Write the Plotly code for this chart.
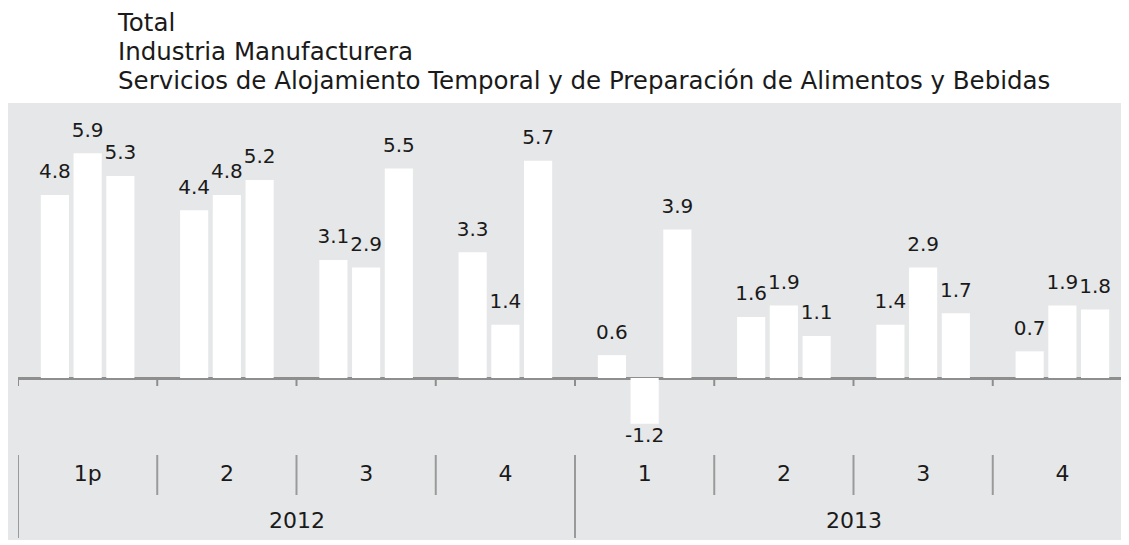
import plotly.graph_objects as go

years = ["2012"] * 4 + ["2013"] * 4
quarters = ["1p", "2", "3", "4", "1", "2", "3", "4"]
series_names = [
    "Total",
    "Industria Manufacturera",
    "Servicios de Alojamiento Temporal y de Preparación de Alimentos y Bebidas",
]
total = [4.8, 4.4, 3.1, 3.3, 0.6, 1.6, 1.4, 0.7]
manufactura = [5.9, 4.8, 2.9, 1.4, -1.2, 1.9, 2.9, 1.9]
alojamiento = [5.3, 5.2, 5.5, 5.7, 3.9, 1.1, 1.7, 1.8]
values = [total, manufactura, alojamiento]

cats = [f"{y}-{q}" for y, q in zip(years, quarters)]

# figure coordinates (page is offset by the 8px body margin)
W, H = 1129, 545
ML, MR, MT, MB = 10, 5, 95, 98
PW, PH = W - ML - MR, H - MT - MB
PLOT_BOTTOM = H - MB
PX_PER_UNIT = 38.1
ZERO_Y = 370
y_top = (ZERO_Y - MT) / PX_PER_UNIT
y_bot = -(PLOT_BOTTOM - ZERO_Y) / PX_PER_UNIT

FONT = "DejaVu Sans"
TXT = "#1a1a1a"
GRAY_BG = "#e6e7e8"
LINE = "#8e8e8e"
LEG_FS = 24.5
LEG_BASELINES = [31, 60, 89]  # page pixels

legend_ids = ["legend", "legend2", "legend3"]

fig = go.Figure()
for i, (name, vals) in enumerate(zip(series_names, values)):
    fig.add_trace(go.Bar(
        x=cats, y=vals, name=name, offsetgroup=str(i), legend=legend_ids[i],
        marker=dict(color="white", line=dict(width=0)),
        hoverinfo="skip",
    ))
for i, vals in enumerate(values):
    fig.add_trace(go.Scatter(
        x=cats, y=vals, mode="markers+text", offsetgroup=str(i),
        text=[f"{v:.1f}" for v in vals],
        textposition=["top center" if v >= 0 else "bottom center" for v in vals],
        textfont=dict(family=FONT, size=20, color=TXT),
        marker=dict(size=[17 if v >= 0 else 4 for v in vals], opacity=0),
        showlegend=False, hoverinfo="skip", cliponaxis=False,
    ))

shapes = [
    dict(type="rect", xref="paper", yref="paper", layer="below",
         x0=-ML / PW, x1=1.0 + MR / PW, y0=-(532 - PLOT_BOTTOM) / PH, y1=1.0,
         fillcolor=GRAY_BG, line=dict(width=0)),
]
n = len(cats)
for k in range(n + 1):
    xb = k - 0.5
    shapes.append(dict(type="line", xref="x", yref="y", x0=xb, x1=xb,
                       y0=0, y1=-8 / PX_PER_UNIT, line=dict(color=LINE, width=2)))
    is_year = (k == 0) or k == n or (years[k] != years[k - 1])
    length = 83 if is_year else 40
    shapes.append(dict(type="line", xref="x", yref="paper", x0=xb, x1=xb,
                       y0=0, y1=-length / PH, line=dict(color="#9a9a9a", width=2)))

annotations = []
for yr in sorted(set(years)):
    idx = [j for j, y in enumerate(years) if y == yr]
    annotations.append(dict(
        x=(idx[0] + idx[-1]) / 2, y=-(512 - PLOT_BOTTOM) / PH, xref="x", yref="paper",
        text=yr, showarrow=False, yanchor="middle",
        font=dict(family=FONT, size=22, color=TXT),
    ))

legend_common = dict(
    xref="container", yref="paper", xanchor="left", yanchor="top",
    font=dict(family=FONT, size=LEG_FS, color=TXT), bgcolor="rgba(0,0,0,0)",
    itemclick=False, itemdoubleclick=False,
)
legend_layout = {}
for lid, base in zip(legend_ids, LEG_BASELINES):
    top_fig = base - 40
    legend_layout[lid] = dict(legend_common, x=70 / W, y=(PLOT_BOTTOM - top_fig) / PH)

fig.update_layout(
    width=W, height=H,
    margin=dict(l=ML, r=MR, t=MT, b=MB, pad=0, autoexpand=False),
    paper_bgcolor="white", plot_bgcolor=GRAY_BG,
    barmode="group", scattermode="group", bargap=0.295, bargroupgap=0.14, scattergap=0.295,
    showlegend=True,
    xaxis=dict(type="category", categoryorder="array", categoryarray=cats,
               tickvals=cats, ticktext=quarters, showgrid=False, zeroline=False,
               showline=False, ticks="", ticklabelstandoff=3,
               tickfont=dict(family=FONT, size=22, color=TXT),
               range=[-0.5, n - 0.5], fixedrange=True),
    yaxis=dict(range=[y_bot, y_top], showgrid=False, showticklabels=False,
               zeroline=True, zerolinecolor=LINE, zerolinewidth=2.5,
               showline=False, ticks="", fixedrange=True),
    shapes=shapes, annotations=annotations,
    font=dict(family=FONT, color=TXT),
    **legend_layout,
)

fig.write_html("out.html")
